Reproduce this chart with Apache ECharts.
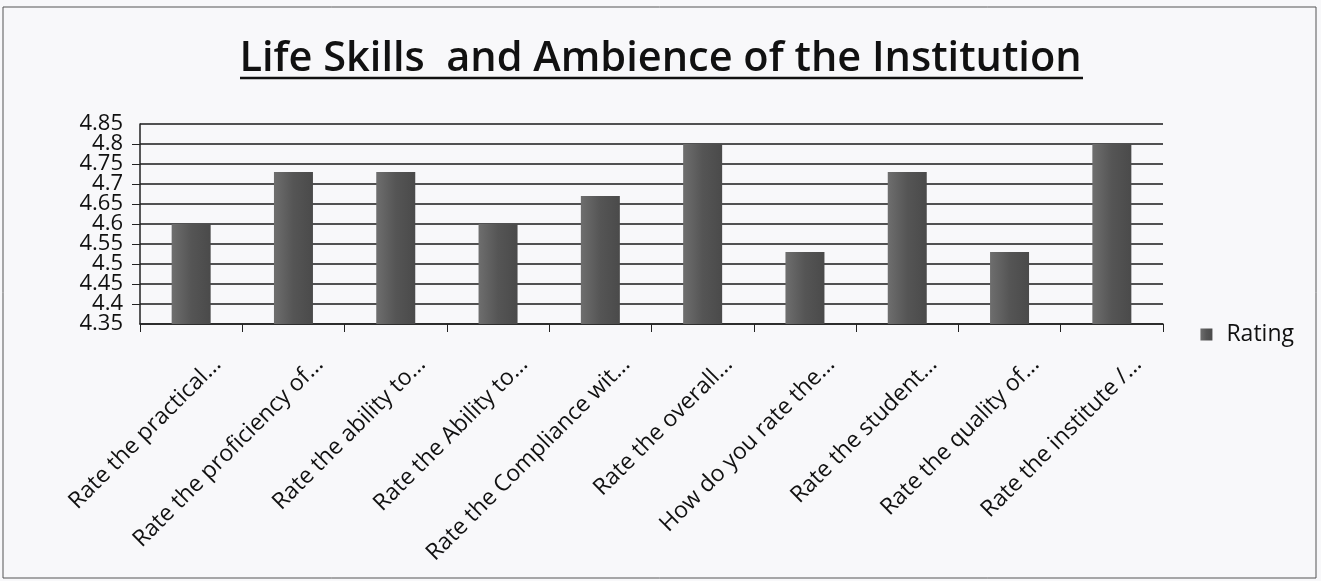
<!DOCTYPE html>
<html>
<head>
<meta charset="utf-8">
<script src="https://cdn.jsdelivr.net/npm/echarts@6/dist/echarts.min.js"></script>
<style>
html,body{margin:0;padding:0;background:#f8f8fa;}
#chart{width:1321px;height:581px;}
</style>
</head>
<body>
<div id="chart"></div>
<script>
const categories = [
  "Rate the practical...",
  "Rate the proficiency of...",
  "Rate the ability to...",
  "Rate the Ability to...",
  "Rate the Compliance wit...",
  "Rate the overall...",
  "How do you rate the...",
  "Rate the student...",
  "Rate the quality of...",
  "Rate the institute /..."
];
const ratingValues = [4.6, 4.73, 4.73, 4.6, 4.67, 4.8, 4.53, 4.73, 4.53, 4.8];
const seriesName = "Rating";
const titleText = "Life Skills  and Ambience of the Institution";
const yMin = 4.35, yMax = 4.85, yStep = 0.05;

const chart = echarts.init(document.getElementById('chart'));
const FONT = 'Open Sans';
const yLabelStyle = {fontFamily: FONT, fontSize: 22, color: '#111', margin: 17,
  formatter: v => String(parseFloat(v.toFixed(2)))};
chart.setOption({
  backgroundColor: '#f8f8fa',
  animation: false,
  title: {
    text: titleText,
    left: 'center',
    top: 33,
    textStyle: {fontFamily: FONT, fontSize: 41.5, fontWeight: 600, color: '#111'}
  },
  legend: {
    data: [seriesName],
    right: 22,
    top: 318,
    orient: 'vertical',
    itemWidth: 12,
    itemHeight: 12,
    icon: 'rect',
    textStyle: {fontFamily: FONT, fontSize: 23, color: '#111', padding: [0, 0, 0, 9]}
  },
  grid: {left: 140, right: 158, top: 124, bottom: 257, containLabel: false},
  xAxis: {
    type: 'category',
    data: categories,
    boundaryGap: true,
    axisLine: {lineStyle: {color: '#222', width: 1.5}},
    axisTick: {show: true, alignWithLabel: false, length: 8, lineStyle: {color: '#222'}},
    axisLabel: {rotate: 45, interval: 0, margin: 63, padding: [0, -37, 0, 0],
      fontFamily: FONT, fontSize: 23, color: '#111'}
  },
  yAxis: [{
    type: 'value',
    position: 'left',
    min: yMin,
    max: yMax,
    interval: yStep,
    axisLine: {show: true, lineStyle: {color: '#222', width: 1.5}},
    axisTick: {show: true, length: 8, lineStyle: {color: '#222'}},
    axisLabel: Object.assign({showMinLabel: false, showMaxLabel: false}, yLabelStyle),
    splitLine: {lineStyle: {color: '#1a1a1a', width: 1.5}}
  }, {
    type: 'value',
    position: 'left',
    offset: 0,
    min: yMin,
    max: yMax,
    interval: yMax - yMin,
    axisLine: {show: false},
    axisTick: {show: false},
    splitLine: {show: false},
    axisLabel: Object.assign({showMinLabel: true, showMaxLabel: true}, yLabelStyle)
  }],
  series: [{
    name: seriesName,
    type: 'bar',
    data: ratingValues,
    barWidth: 39,
    itemStyle: {
      color: new echarts.graphic.LinearGradient(0, 0, 1, 0, [
        {offset: 0, color: '#6e6e6e'},
        {offset: 0.5, color: '#555555'},
        {offset: 1, color: '#4a4a4a'}
      ])
    }
  }],
  graphic: [
    {type: 'rect', shape: {x: 3, y: 7, width: 1313, height: 571}, style: {fill: 'none', stroke: '#555', lineWidth: 1}, z: 100},
    {type: 'line', shape: {x1: 240, y1: 78, x2: 1083, y2: 78}, style: {stroke: '#111', lineWidth: 2.5}, z: 100}
  ]
});
</script>
</body>
</html>
